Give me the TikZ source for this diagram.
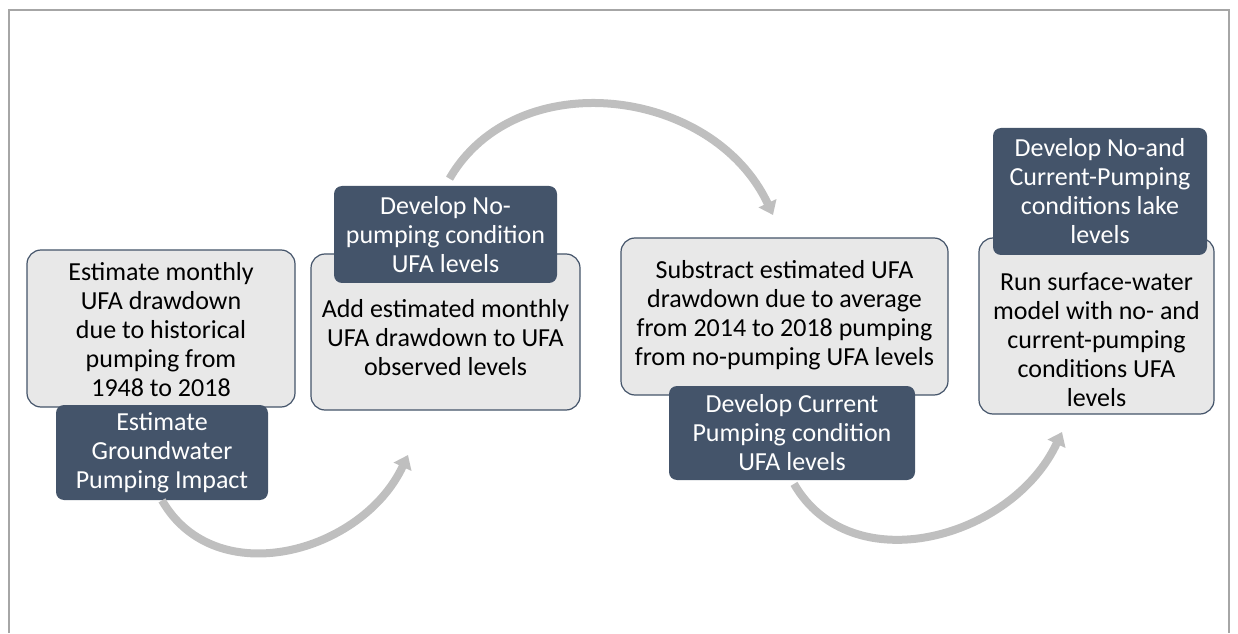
\documentclass[tikz,border=0pt]{standalone}
\usepackage{fontspec}
\setmainfont{Carlito}
\usetikzlibrary{arrows.meta}

\definecolor{slate}{HTML}{44546A}
\definecolor{boxgray}{HTML}{E8E8E8}
\definecolor{flowgray}{HTML}{BFBFBF}
\definecolor{framegray}{HTML}{A6A6A6}

\tikzset{
    lightbox/.style={draw=slate, line width=0.6pt, fill=boxgray, rounded corners=7pt},
    boxtext/.style={align=center, inner sep=0pt, font=\fontsize{13}{14.5}\selectfont},
    darkbox/.style={fill=slate, text=white, rounded corners=4pt, align=center,
        inner sep=0pt, font=\fontsize{13}{14.5}\selectfont},
    flow/.style={draw=flowgray, line width=4pt, -{Triangle[length=6.5pt,width=9.5pt]}}
}

\begin{document}
\begin{tikzpicture}[x=0.5pt, y=0.5pt]
\useasboundingbox (0,0) rectangle (1238,633);
\draw[framegray, line width=1pt] (9,0) -- (9,623) -- (1229,623) -- (1229,0);

% light step boxes
\node (box1) at (161,304.5) [lightbox, minimum width=134pt, minimum height=78.5pt] {};
\node (box2) at (445.5,301) [lightbox, minimum width=134.5pt, minimum height=78pt] {};
\node (box3) at (784.5,316.5) [lightbox, minimum width=163.5pt, minimum height=78.5pt] {};
\node (box4) at (1096.5,307) [lightbox, minimum width=117.5pt, minimum height=88pt] {};

\node (text1) at ([yshift=-0.5pt]box1.center) [boxtext] {Estimate monthly\\UFA drawdown\\due to historical\\pumping from\\1948 to 2018};
\node (text2) at ([yshift=-3pt]box2.center) [boxtext] {Add estimated monthly\\UFA drawdown to UFA\\observed levels};
\node (text3) at ([yshift=0.5pt]box3.center) [boxtext] {Substract estimated UFA\\drawdown due to average\\from 2014 to 2018 pumping\\from no-pumping UFA levels};
\node (text4) at ([yshift=-7pt]box4.center) [boxtext] {Run surface-water\\model with no- and\\current-pumping\\conditions UFA\\levels};

% dark title boxes
\node (title1) at (162,180.5) [darkbox, minimum width=106pt, minimum height=47.5pt] {Estimate\\Groundwater\\Pumping Impact};
\node (title2) at (445.5,398.5) [darkbox, minimum width=111.5pt, minimum height=48.5pt] {Develop No-\\pumping condition\\UFA levels};
\node (title3) at (792,200) [darkbox, minimum width=123pt, minimum height=47pt] {Develop Current\\Pumping condition\\UFA levels};
\node (title4) at (1100,441.5) [darkbox, minimum width=107pt, minimum height=63.5pt] {Develop No-and\\Current-Pumping\\conditions lake\\levels};

% curved arrows
\coordinate (end1) at (408,178);
\coordinate (end2) at (773,418);
\coordinate (end3) at (1062,201);

\path[flow] (title1.south) to[out=-60, in=-115, looseness=1.1] (end1);
\path[flow, shorten <=4pt] (title2.north) to[out=60, in=115, looseness=1.1] (end2);
\path[flow, shorten <=2pt] (title3.south) to[out=-60, in=-115, looseness=1.1] (end3);
\end{tikzpicture}
\end{document}
